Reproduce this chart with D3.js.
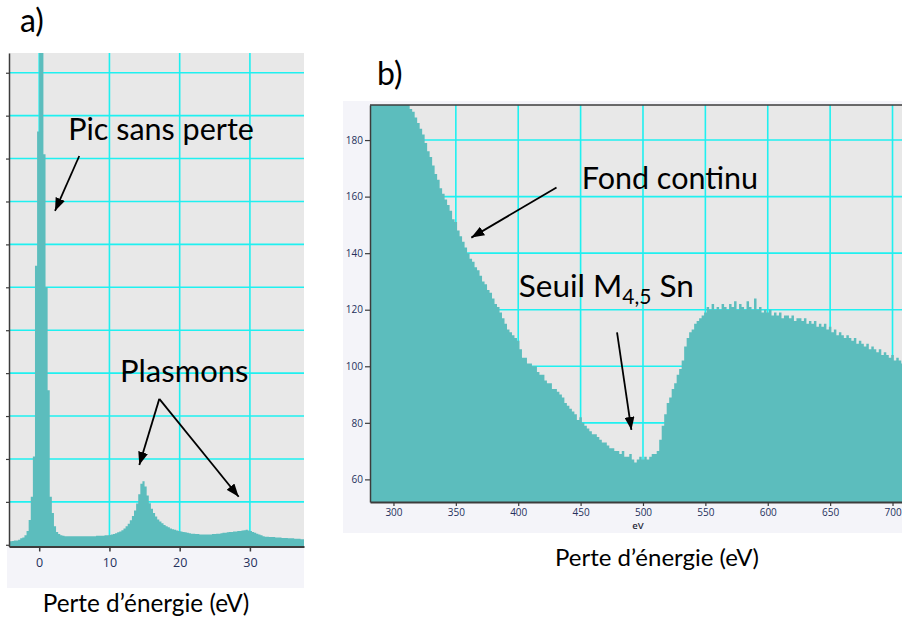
<!DOCTYPE html>
<html>
<head>
<meta charset="utf-8">
<script src="https://cdn.jsdelivr.net/npm/d3@7"></script>
<style>
  body { margin: 0; background: #fff; }
  svg { display: block; }
  .ann { font-family: Lato, "Open Sans", sans-serif; fill: #000; }
  .tick text { font-family: "Open Sans", "Noto Sans", sans-serif; fill: #24305c; }
</style>
</head>
<body>
<svg id="fig" width="902" height="623"></svg>
<script>
// ---- Panel a : low-loss spectrum (0.3 eV channels, thousands of counts) ----
const lowLossStart = -4.5;
const lowLossStep = 0.3;
const lowLossCounts = [
  0.08, 0.08, 0.09, 0.10, 0.10, 0.12, 0.15, 0.17, 0.22, 0.32,
  0.58, 1.12, 2.06, 6.5, 9.63, 16.0, 12.6, 9.1, 6.0, 3.6,
  1.12, 0.74, 0.43, 0.30, 0.25, 0.22, 0.21, 0.20, 0.20, 0.20,
  0.20, 0.20, 0.20, 0.20, 0.20, 0.20, 0.20, 0.20, 0.20, 0.20,
  0.20, 0.20, 0.21, 0.21, 0.21, 0.21, 0.22, 0.22, 0.23, 0.24,
  0.25, 0.27, 0.29, 0.31, 0.34, 0.38, 0.43, 0.49, 0.57, 0.67,
  0.80, 0.96, 1.18, 1.42, 1.48, 1.36, 1.15, 0.97, 0.84, 0.74,
  0.66, 0.59, 0.54, 0.50, 0.46, 0.43, 0.41, 0.38, 0.36, 0.35,
  0.33, 0.32, 0.31, 0.30, 0.29, 0.28, 0.27, 0.26, 0.26, 0.25,
  0.25, 0.24, 0.24, 0.24, 0.24, 0.24, 0.24, 0.25, 0.25, 0.26,
  0.26, 0.27, 0.28, 0.28, 0.29, 0.30, 0.30, 0.31, 0.31, 0.32,
  0.32, 0.33, 0.34, 0.35, 0.33, 0.32, 0.30, 0.28, 0.26, 0.24,
  0.22, 0.20, 0.19, 0.19, 0.18, 0.18, 0.18, 0.17, 0.17, 0.17,
  0.16, 0.16, 0.16, 0.15, 0.15, 0.15, 0.14, 0.14, 0.14, 0.13,
  0.13
];
const lowLossTicksX = [0, 10, 20, 30];
const lowLossTicksY = [0, 1, 2, 3, 4, 5, 6, 7, 8, 9, 10, 11];

// ---- Panel b : Sn M4,5 edge region (2 eV channels, counts) ----
const coreLossStart = 281;
const coreLossStep = 2;
const coreLossCounts = [
  228, 226, 224, 222, 219, 217, 215, 212, 210, 207,
  205, 203, 200, 198, 196, 194, 191, 190, 188, 186,
  184, 182, 179, 176, 174, 171, 168, 166, 163, 161,
  159, 157, 155, 152, 151, 148, 146, 144, 142, 140,
  138, 137, 135, 134, 132, 130, 129, 127, 126, 124,
  122, 121, 119, 117, 115, 113, 112, 111, 110, 109,
  106, 103, 103, 101, 101, 100, 100, 98, 97, 97,
  95, 94, 94, 92, 92, 91, 90, 89, 87, 86,
  85, 84, 83, 81, 82, 80, 79, 78, 77, 76,
  76, 75, 74, 73, 73, 72, 71, 71, 70, 70,
  69, 70, 68, 68, 69, 67, 66, 67, 68, 67,
  68, 67, 68, 69, 69, 70, 74, 79, 83, 87,
  89, 92, 94, 97, 99, 102, 107, 110, 112, 113,
  115, 116, 117, 118, 119, 121, 120, 122, 120, 121,
  120, 122, 121, 120, 122, 121, 123, 120, 122, 121,
  120, 123, 121, 120, 124, 120, 121, 119, 120, 119,
  120, 118, 119, 118, 119, 117, 118, 118, 117, 118,
  116, 117, 117, 116, 117, 115, 116, 115, 116, 114,
  115, 114, 115, 113, 114, 112, 113, 111, 112, 111,
  110, 111, 110, 109, 110, 108, 109, 108, 107, 108,
  106, 107, 106, 105, 106, 104, 105, 104, 103, 104,
  102, 103, 102, 101
];
const coreLossTicksX = [300, 350, 400, 450, 500, 550, 600, 650, 700];
const coreLossTicksY = [60, 80, 100, 120, 140, 160, 180];

const axisTitle = "Perte d\u2019\u00e9nergie (eV)";

// ---- shared styling ----
const fill = "#5cbdbd";
const plotBg = "#e8e8e8";
const frameBg = "#f4f4f9";
const gridColor = "#1ff0f0";
const axisColor = "#3c3c3c";

const svg = d3.select("#fig");
svg.append("rect").attr("width", 902).attr("height", 623).attr("fill", "#fff");

const defs = svg.append("defs");
defs.append("marker")
  .attr("id", "head")
  .attr("viewBox", "0 0 13 10")
  .attr("refX", 13).attr("refY", 5)
  .attr("markerWidth", 13).attr("markerHeight", 10)
  .attr("markerUnits", "userSpaceOnUse")
  .attr("orient", "auto")
  .append("path").attr("d", "M0,0 L13,5 L0,10 Z").attr("fill", "#000");

function channels(start, step, counts) {
  const pts = counts.map((c, i) => [start + i * step, c]);
  pts.push([start + counts.length * step, counts[counts.length - 1]]);
  return pts;
}

function arrow(g, x, y, from, to) {
  g.append("line")
    .attr("x1", x(from[0])).attr("y1", y(from[1]))
    .attr("x2", x(to[0])).attr("y2", y(to[1]))
    .attr("stroke", "#000").attr("stroke-width", 1.8)
    .attr("marker-end", "url(#head)");
}

// =================== Panel a ===================
{
  const L = 9, R = 304, T = 53, B = 546.5;
  const x = d3.scaleLinear().domain([-4.3, 37.7]).range([L, R]);
  const y = d3.scaleLinear().domain([-0.04, 11.46]).range([B, T]);
  const g = svg.append("g");

  g.append("rect").attr("x", 7).attr("y", B).attr("width", R - 7).attr("height", 588 - B).attr("fill", frameBg);
  g.append("rect").attr("x", L).attr("y", T).attr("width", R - L).attr("height", B - T).attr("fill", plotBg);

  defs.append("clipPath").attr("id", "clipA")
    .append("rect").attr("x", L).attr("y", T).attr("width", R - L).attr("height", B - T);

  const grid = g.append("g").attr("stroke", gridColor).attr("stroke-width", 1.6);
  grid.selectAll("line.h").data(lowLossTicksY.filter(d => d > 0)).join("line")
    .attr("x1", L).attr("x2", R).attr("y1", d => y(d)).attr("y2", d => y(d));
  grid.selectAll("line.v").data(lowLossTicksX).join("line")
    .attr("x1", d => x(d)).attr("x2", d => x(d)).attr("y1", T).attr("y2", B);

  const area = d3.area().curve(d3.curveStepAfter)
    .x(d => x(d[0])).y0(B).y1(d => y(d[1]));
  g.append("path").attr("clip-path", "url(#clipA)")
    .datum(channels(lowLossStart, lowLossStep, lowLossCounts))
    .attr("d", area).attr("fill", fill);

  const ax = g.append("g").attr("transform", `translate(0,${B})`)
    .call(d3.axisBottom(x).tickValues(lowLossTicksX).tickSize(5).tickSizeOuter(0).tickPadding(7));
  ax.select(".domain").attr("stroke", axisColor).attr("stroke-width", 2);
  ax.selectAll(".tick line").attr("stroke", axisColor).attr("stroke-width", 1.5);
  ax.selectAll(".tick text").attr("font-size", 12.5);

  const ay = g.append("g").attr("transform", `translate(${L},0)`)
    .call(d3.axisLeft(y).tickValues(lowLossTicksY).tickSize(3).tickSizeOuter(0).tickFormat(""));
  ay.select(".domain").attr("stroke", axisColor).attr("stroke-width", 1.5);
  ay.selectAll(".tick line").attr("stroke", axisColor).attr("stroke-width", 1.2);

  // annotations
  g.append("text").attr("class", "ann").attr("x", 20).attr("y", 32).attr("font-size", 32).text("a)");
  g.append("text").attr("class", "ann").attr("x", x(4.14)).attr("y", y(9.44)).attr("font-size", 30.5).text("Pic sans perte");
  g.append("text").attr("class", "ann").attr("x", x(11.5)).attr("y", y(3.79)).attr("font-size", 31).text("Plasmons");
  arrow(g, x, y, [5.7, 9.06], [2.25, 7.78]);
  arrow(g, x, y, [17.1, 3.40], [14.25, 1.86]);
  arrow(g, x, y, [17.1, 3.40], [28.4, 1.12]);

  g.append("text").attr("class", "ann").attr("x", 146).attr("y", 612)
    .attr("text-anchor", "middle").attr("font-size", 24.3).text(axisTitle);
}

// =================== Panel b ===================
{
  const L = 370, R = 902, T = 105, B = 502;
  const x = d3.scaleLinear().domain([281.2, 707.6]).range([L, R]);
  const y = d3.scaleLinear().domain([52, 192.4]).range([B, T]);
  const g = svg.append("g");

  g.append("rect").attr("x", 343).attr("y", 101).attr("width", 902 - 343).attr("height", 533 - 101).attr("fill", frameBg);
  g.append("rect").attr("x", L).attr("y", T).attr("width", R - L + 10).attr("height", B - T).attr("fill", plotBg);

  defs.append("clipPath").attr("id", "clipB")
    .append("rect").attr("x", L).attr("y", T).attr("width", R - L + 10).attr("height", B - T);

  const grid = g.append("g").attr("stroke", gridColor).attr("stroke-width", 1.6);
  grid.selectAll("line.h").data(coreLossTicksY).join("line")
    .attr("x1", L).attr("x2", R + 10).attr("y1", d => y(d)).attr("y2", d => y(d));
  grid.selectAll("line.v").data(coreLossTicksX).join("line")
    .attr("x1", d => x(d)).attr("x2", d => x(d)).attr("y1", T).attr("y2", B);

  const area = d3.area().curve(d3.curveStepAfter)
    .x(d => x(d[0])).y0(B).y1(d => y(d[1]));
  g.append("path").attr("clip-path", "url(#clipB)")
    .datum(channels(coreLossStart, coreLossStep, coreLossCounts))
    .attr("d", area).attr("fill", fill);

  // top frame line
  g.append("line").attr("x1", L).attr("x2", R + 10).attr("y1", T).attr("y2", T)
    .attr("stroke", axisColor).attr("stroke-width", 1.5);

  const ax = g.append("g").attr("transform", `translate(0,${B})`)
    .call(d3.axisBottom(x).tickValues(coreLossTicksX).tickSize(4).tickSizeOuter(0).tickPadding(3));
  ax.select(".domain").attr("stroke", axisColor).attr("stroke-width", 2);
  ax.selectAll(".tick line").attr("stroke", axisColor).attr("stroke-width", 1.2);
  ax.selectAll(".tick text").attr("font-size", 10);

  const ay = g.append("g").attr("transform", `translate(${L},0)`)
    .call(d3.axisLeft(y).tickValues(coreLossTicksY).tickSize(5).tickSizeOuter(0).tickPadding(2));
  ay.select(".domain").attr("stroke", axisColor).attr("stroke-width", 1.5);
  ay.selectAll(".tick line").attr("stroke", axisColor).attr("stroke-width", 1.2);
  ay.selectAll(".tick text").attr("font-size", 10);

  g.append("text").attr("x", 638).attr("y", 529).attr("text-anchor", "middle")
    .attr("font-family", "'Open Sans', sans-serif").attr("font-size", 9.5).attr("font-weight", 600)
    .attr("fill", "#2a2a3a").text("eV");

  // annotations
  g.append("text").attr("class", "ann").attr("x", 377).attr("y", 85).attr("font-size", 32).text("b)");
  g.append("text").attr("class", "ann").attr("x", x(450.9)).attr("y", y(162.6)).attr("font-size", 30.5).text("Fond continu");
  const seuil = g.append("text").attr("class", "ann").attr("x", x(400.5)).attr("y", y(124.4)).attr("font-size", 31.5);
  seuil.append("tspan").text("Seuil M");
  seuil.append("tspan").attr("font-size", 21).attr("dy", 7).text("4,5");
  seuil.append("tspan").attr("dy", -7).text(" Sn");
  arrow(g, x, y, [430.7, 163.2], [362.4, 145.5]);
  arrow(g, x, y, [479.2, 112.0], [490.7, 77.5]);

  g.append("text").attr("class", "ann").attr("x", 657).attr("y", 566)
    .attr("text-anchor", "middle").attr("font-size", 24).text(axisTitle);
}
</script>
</body>
</html>
